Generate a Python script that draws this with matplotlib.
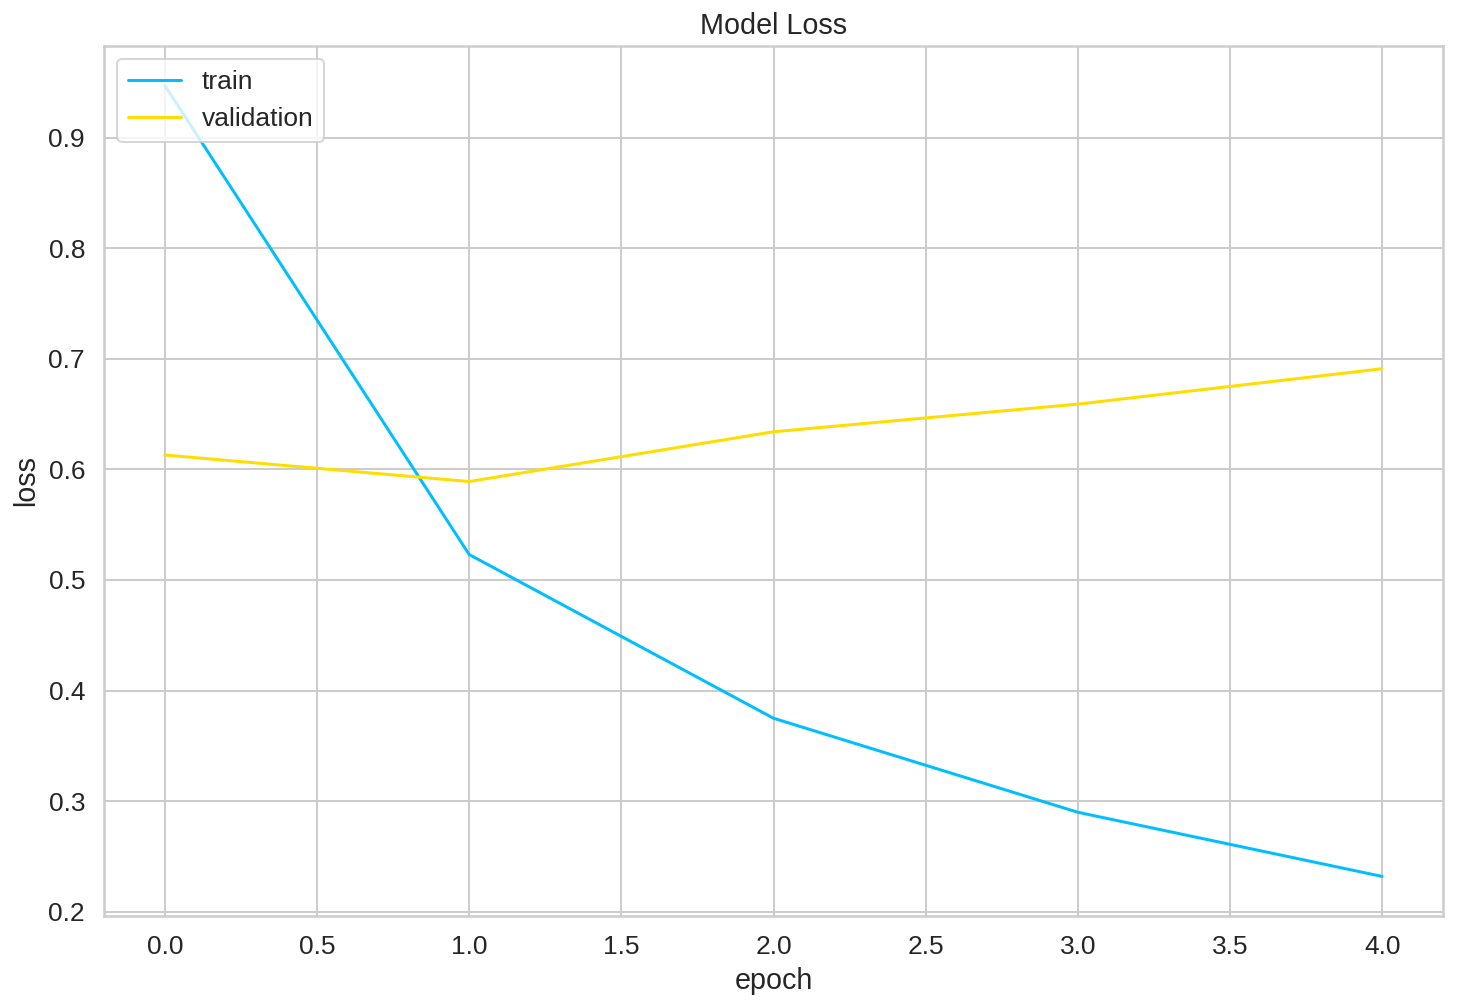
import matplotlib
matplotlib.use("Agg")
import matplotlib.pyplot as plt
import seaborn as sns

sns.set(style="whitegrid", palette="muted", font_scale=1.2)
plt.rcParams["font.family"] = ["Liberation Sans", "DejaVu Sans"]

HAPPY_COLORS = ["#01BEFE", "#FFDD00"]

epochs = [0, 1, 2, 3, 4]
train_loss = [0.947, 0.523, 0.375, 0.290, 0.232]
val_loss = [0.613, 0.589, 0.634, 0.659, 0.691]

fig = plt.figure(figsize=(1457 / 144, 1007 / 144), dpi=144)
ax = fig.add_axes([0.0714, 0.0904, 0.919, 0.8639])

ax.plot(epochs, train_loss, color=HAPPY_COLORS[0], label="train")
ax.plot(epochs, val_loss, color=HAPPY_COLORS[1], label="validation")
ax.set_title("Model Loss")
ax.set_ylabel("loss")
ax.set_xlabel("epoch")
ax.legend(loc="upper left")

fig.savefig("out.png", dpi=144)
